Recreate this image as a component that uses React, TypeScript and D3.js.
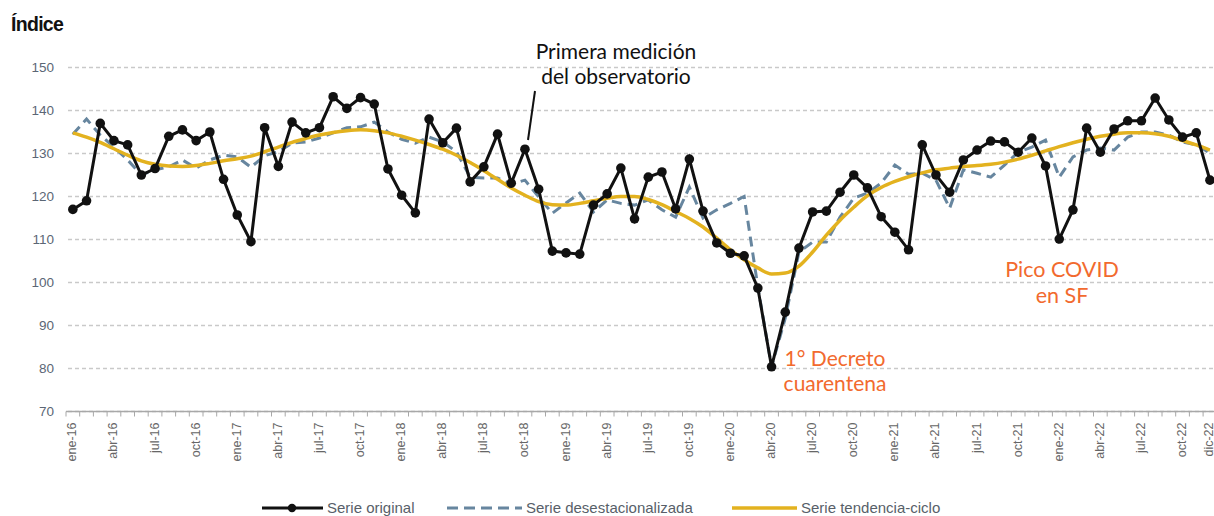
import React from 'react';
import * as d3 from 'd3';

const MONTHS = ['ene', 'feb', 'mar', 'abr', 'may', 'jun', 'jul', 'ago', 'sep', 'oct', 'nov', 'dic'];
const YEARS = ['16', '17', '18', '19', '20', '21', '22'];
const categories = YEARS.flatMap(y => MONTHS.map(m => `${m}-${y}`));

// Serie original
const original = [
  117, 119, 137, 133, 132, 125, 126.5, 134, 135.5, 133, 135, 124,
  115.7, 109.5, 136, 127, 137.3, 134.8, 136, 143.2, 140.5, 143, 141.5, 126.4,
  120.3, 116.2, 138, 132.5, 135.9, 123.4, 126.9, 134.5, 123.1, 131, 121.7, 107.3,
  106.9, 106.6, 118, 120.6, 126.6, 114.8, 124.5, 125.7, 117.1, 128.7, 116.6, 109.2,
  106.8, 106.2, 98.7, 80.4, 93.1, 108, 116.4, 116.6, 121, 125, 122, 115.3,
  111.7, 107.6, 132, 125, 121, 128.5, 130.8, 132.9, 132.7, 130.3, 133.6, 127.1,
  110.1, 116.9, 135.9, 130.3, 135.7, 137.6, 137.6, 142.9, 137.8, 133.8, 134.8, 123.8,
];

// Serie desestacionalizada
const desest = [
  134.5, 138, 134.3, 131.5, 128.5, 125, 126.2, 126.9, 128.5, 126.6, 128.5, 129.6,
  129.2, 126.8, 129.5, 130.4, 132.4, 132.7, 133.6, 134.8, 136, 136.2, 137.3, 135,
  133.3, 132.4, 133.8, 132.7, 130.4, 124.5, 124.3, 124.3, 122.9, 123.8, 119.9, 116.1,
  118.5, 120.8, 116.4, 119.2, 118.4, 118, 119.2, 116.9, 115.2, 122.2, 115, 116.9,
  118.4, 120, 99, 80.4, 91.7, 107.1, 109.4, 109.4, 115.2, 119.6, 120.8, 123.1,
  127.3, 125.2, 125.4, 123.8, 117.3, 126.2, 125.4, 124.5, 127.3, 130.3, 131.5, 133.1,
  124.5, 129.2, 130.8, 131.3, 130.8, 133.8, 135, 135, 134.3, 132.7, 132, 130.1,
];

// Serie tendencia-ciclo
const tendencia = [
  134.8, 133.8, 132.6, 131.1, 129.6, 128.3, 127.5, 127.1, 127, 127.2, 127.7, 128.3,
  128.8, 129.4, 130.4, 131.5, 132.6, 133.5, 134.3, 134.9, 135.3, 135.5, 135.3, 134.8,
  134, 133.1, 132.1, 131, 129.6, 127.9, 126, 124, 122, 120.3, 118.8, 118.1,
  118, 118.4, 119, 119.6, 120, 120, 119.3, 118.1, 116.5, 114.9, 112.9, 110.3,
  107.6, 105.3, 103.4, 102, 102.2, 103.8, 107.1, 111, 114.5, 117.5, 120.2, 122.1,
  123.5, 124.6, 125.5, 126.2, 126.6, 127, 127.2, 127.5, 128, 128.7, 129.6, 130.6,
  131.6, 132.5, 133.3, 134, 134.5, 134.8, 134.8, 134.6, 134, 133, 132, 130.8,
];

const yTicks = [70, 80, 90, 100, 110, 120, 130, 140, 150];

const W = 1214;
const H = 516;
const LEFT = 66;
const RIGHT = 1216.8;
const TOP_Y = 67.5;
const BOT_Y = 411.5;

const SANS = '"Liberation Sans", Arial, sans-serif';
const LATO = 'Lato, "Open Sans", sans-serif';

export default function App() {
  const x = d3.scaleBand<string>().domain(categories).range([LEFT, RIGHT]).paddingInner(0).paddingOuter(0);
  const y = d3.scaleLinear().domain([70, 150]).range([BOT_Y, TOP_Y]);
  const cx = (i: number) => (x(categories[i]) ?? 0) + x.bandwidth() / 2;

  const straight = d3.line<number>().x((_, i) => cx(i)).y(d => y(d));
  const smooth = d3.line<number>().x((_, i) => cx(i)).y(d => y(d)).curve(d3.curveMonotoneX);

  const labelIdx = categories.map((_, i) => i).filter(i => i % 3 === 0 || i === categories.length - 1);

  return (
    <div style={{ position: 'absolute', left: 0, top: 0 }}>
      <svg width={W} height={H} style={{ display: 'block', background: '#fff' }}>
        <text x={11} y={31} fontFamily={SANS} fontWeight="bold" fontSize={19.5} fill="#111" letterSpacing={-0.7}>Índice</text>

        {yTicks.map(t => (
          <g key={t}>
            <line x1={68} x2={W} y1={y(t)} y2={y(t)} stroke="#c9c9c9" strokeWidth={1.3} strokeDasharray="4 3" />
            <text x={54} y={y(t)} dy="0.35em" textAnchor="end" fontFamily={SANS} fontSize={13.5} fill="#5b6675">{t}</text>
          </g>
        ))}

        <line x1={LEFT} x2={W} y1={BOT_Y} y2={BOT_Y} stroke="#a8a8a8" strokeWidth={1.5} />
        {categories.map((c, i) => (
          <line key={c} x1={x(c)} x2={x(c)} y1={BOT_Y} y2={BOT_Y + 5} stroke="#a8a8a8" strokeWidth={1} />
        ))}
        {labelIdx.map(i => (
          <text key={i} transform={`translate(${Math.min(cx(i) + 3.5, W - 1.5)},${BOT_Y + 11}) rotate(-90)`} textAnchor="end"
            fontFamily={SANS} fontSize={12.5} fill="#666">{categories[i]}</text>
        ))}

        <path d={straight(desest) ?? ''} fill="none" stroke="#67869f" strokeWidth={3} strokeDasharray="10 6" />
        <path d={smooth(tendencia) ?? ''} fill="none" stroke="#e3b21f" strokeWidth={3.5} />
        <path d={straight(original) ?? ''} fill="none" stroke="#111" strokeWidth={3} />
        {original.map((v, i) => (
          <circle key={i} cx={cx(i)} cy={y(v)} r={4.8} fill="#111" />
        ))}

        {/* anotaciones */}
        <line x1={535} y1={91} x2={528} y2={140} stroke="#111" strokeWidth={2} />
        <text x={616} y={59} textAnchor="middle" fontFamily={LATO} fontSize={21} fill="#111">Primera medición</text>
        <text x={616} y={84} textAnchor="middle" fontFamily={LATO} fontSize={21} fill="#111">del observatorio</text>

        <text x={835} y={366} textAnchor="middle" fontFamily={LATO} fontSize={21} fill="#f26a2e">1° Decreto</text>
        <text x={835} y={391} textAnchor="middle" fontFamily={LATO} fontSize={21} fill="#f26a2e">cuarentena</text>

        <text x={1062} y={277} textAnchor="middle" fontFamily={LATO} fontSize={21.5} fill="#f26a2e">Pico COVID</text>
        <text x={1062} y={303} textAnchor="middle" fontFamily={LATO} fontSize={21.5} fill="#f26a2e">en SF</text>

        {/* leyenda */}
        <g fontFamily={SANS} fontSize={15} fill="#585f69">
          <line x1={262} x2={323} y1={508} y2={508} stroke="#111" strokeWidth={3} />
          <circle cx={292} cy={508} r={4.2} fill="#111" />
          <text x={327} y={513}>Serie original</text>
          <line x1={447} x2={522} y1={508} y2={508} stroke="#67869f" strokeWidth={3} strokeDasharray="11 6" />
          <text x={526} y={513}>Serie desestacionalizada</text>
          <line x1={732} x2={797} y1={508} y2={508} stroke="#e3b21f" strokeWidth={3.5} />
          <text x={801} y={513}>Serie tendencia-ciclo</text>
        </g>
      </svg>
    </div>
  );
}
